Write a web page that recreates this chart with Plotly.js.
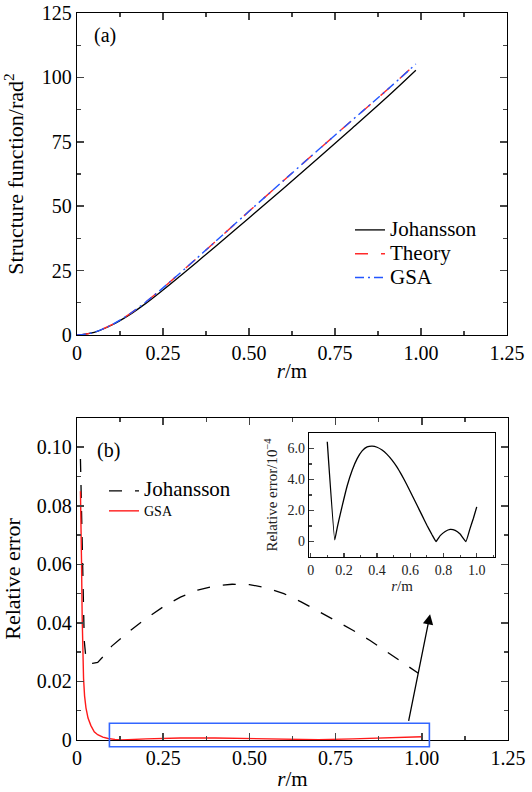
<!DOCTYPE html>
<html><head><meta charset="utf-8">
<script src="https://cdn.plot.ly/plotly-3.0.1.min.js"></script>
<style>html,body{margin:0;padding:0;background:#fff}#chart{width:532px;height:792px}</style>
</head><body><div id="chart"></div>
<script>
// ---------- Panel (a): structure function ----------
const rA         = [0, 0.025, 0.05, 0.1, 0.15, 0.2, 0.25, 0.3, 0.35, 0.4, 0.5, 0.6, 0.7, 0.8, 0.9, 0.985];
const johanssonA = [0, 0.34, 1.02, 3.78, 7.61, 12.27, 17.47, 22.92, 28.46, 34.11, 45.45, 56.9, 68.5, 80.3, 92.2, 102.8];
const theoryA    = [0, 0.35, 1.05, 3.9, 7.9, 12.8, 18.3, 24.1, 30.0, 36.0, 48.0, 59.9, 71.7, 83.4, 95.0, 105.3];
const gsaA       = [0, 0.35, 1.05, 3.9, 7.9, 12.8, 18.3, 24.1, 30.0, 36.0, 48.0, 59.9, 71.7, 83.4, 95.0, 105.2];

// ---------- Panel (b): relative error ----------
const rJohB   = [0.010,0.012,0.014,0.016,0.018,0.021,0.025,0.03,0.045,0.06,0.08,0.1,0.15,0.2,0.25,0.3,0.35,0.4,0.45,0.5,0.55,0.6,0.65,0.7,0.75,0.8,0.85,0.9,0.95,0.99];
const errJohB = [0.096,0.082,0.068,0.055,0.044,0.034,0.029,0.0268,0.0262,0.0265,0.029,0.032,0.037,0.0415,0.0455,0.0488,0.0512,0.0526,0.0532,0.0531,0.052,0.050,0.0472,0.044,0.0408,0.0375,0.034,0.030,0.026,0.0228];
const rGsaB   = [0.010,0.012,0.013,0.015,0.017,0.019,0.022,0.026,0.032,0.04,0.05,0.06,0.075,0.09,0.11,0.13,0.2,0.3,0.4,0.5,0.6,0.65,0.7,0.8,0.9,1.0];
const errGsaB = [0.085,0.075,0.062,0.042,0.028,0.021,0.015,0.011,0.0075,0.005,0.0028,0.0018,0.001,0.0005,0.0002,0.0,0.0004,0.0007,0.0007,0.0005,0.0002,0.0,0.0001,0.0004,0.0008,0.0011];

// ---------- Inset: GSA relative error (x 1e-4) ----------
const rInset   = [0.1,0.145,0.16,0.178,0.19,0.22,0.25,0.28,0.31,0.34,0.37,0.40,0.43,0.46,0.49,0.52,0.55,0.58,0.61,0.64,0.67,0.70,0.73,0.755,0.78,0.81,0.84,0.87,0.90,0.935,0.96,0.98,1.0];
const errInset = [6.44,0.1,0.9,1.75,2.3,3.6,4.6,5.35,5.85,6.1,6.15,6.08,5.9,5.62,5.25,4.8,4.25,3.65,3.0,2.35,1.7,1.05,0.45,0.0,0.38,0.65,0.78,0.72,0.48,0.0,0.85,1.5,2.23];

// ---------- Ticks ----------
const xTickVals  = [0,0.25,0.5,0.75,1.0,1.25];
const xTickText  = ['0','0.25','0.50','0.75','1.00','1.25'];
const yTickValsA = [0,25,50,75,100,125];
const yTickTextA = ['0','25','50','75','100','125'];
const yTickValsB = [0,0.02,0.04,0.06,0.08,0.10];
const yTickTextB = ['0','0.02','0.04','0.06','0.08','0.10'];
const xTickValsI = [0,0.2,0.4,0.6,0.8,1.0];
const xTickTextI = ['0','0.2','0.4','0.6','0.8','1.0'];
const yTickValsI = [0,2,4,6];
const yTickTextI = ['0','2.0','4.0','6.0'];

// zoom box and arrow (data units of panel b)
const zoomBox = {r0:0.094, r1:1.022, e0:-0.0023, e1:0.0057};
const arrowTail = {r:0.961, e:0.006};
const arrowHead = {r:1.024, e:0.043};

const FONT = 'Liberation Serif, DejaVu Serif, serif';
const TICKC = '#444';
const xRangeMain = [0,1.25], yRangeA = [0,125], yRangeB = [0,0.11];
const xRangeI = [-0.01,1.11], yRangeI = [-1,7];

function mainAxis(extra){
  return Object.assign({
    showline:true, linecolor:'#000', linewidth:1.3, mirror:'ticks',
    ticks:'inside', ticklen:7, tickwidth:1.6, tickcolor:TICKC,
    showgrid:false, zeroline:false,
    tickfont:{family:FONT, size:20, color:'#000'}
  }, extra);
}
function insetAxis(extra){
  return Object.assign({
    showline:true, linecolor:'#000', linewidth:1.2, mirror:true,
    ticks:'inside', ticklen:4.5, tickwidth:1.3, tickcolor:TICKC,
    showgrid:false, zeroline:false,
    tickfont:{family:FONT, size:14, color:'#222'}
  }, extra);
}
const minorOpt = (d, len)=>({tickmode:'linear', tick0:0, dtick:d, ticks:'inside', ticklen:len, tickwidth:1.4, tickcolor:TICKC, showgrid:false});

const span = (t,s)=>'<span style="font-size:'+s+'px">'+t+'</span>';

const traces = [
  {x:rA, y:johanssonA, xaxis:'x', yaxis:'y', type:'scatter', mode:'lines', name:span('Johansson',21), legend:'legend',
   line:{color:'#000', width:1.3, shape:'spline', smoothing:1}},
  {x:rA, y:theoryA, xaxis:'x', yaxis:'y', type:'scatter', mode:'lines', name:span('Theory',21), legend:'legend',
   line:{color:'#ff2a2a', width:1.4, dash:'13px,13px', shape:'spline', smoothing:1}},
  {x:rA, y:gsaA, xaxis:'x', yaxis:'y', type:'scatter', mode:'lines', name:span('GSA',21), legend:'legend',
   line:{color:'#2255ff', width:1.4, dash:'9px,4px,2px,4px', shape:'spline', smoothing:1}},
  {x:rJohB, y:errJohB, xaxis:'x2', yaxis:'y2', type:'scatter', mode:'lines', name:span('Johansson',21), legend:'legend2',
   line:{color:'#000', width:1.3, dash:'13px,13px'}},
  {x:rGsaB, y:errGsaB, xaxis:'x2', yaxis:'y2', type:'scatter', mode:'lines', name:span('GSA',14), legend:'legend2',
   line:{color:'#ff1a1a', width:1.4}},
  {x:rInset, y:errInset, xaxis:'x3', yaxis:'y3', type:'scatter', mode:'lines', showlegend:false,
   line:{color:'#000', width:1.3, shape:'spline', smoothing:0.3}}
];

const layout = {
  width:532, height:792, margin:{l:0,r:0,t:0,b:0},
  paper_bgcolor:'#fff', plot_bgcolor:'rgba(0,0,0,0)',
  font:{family:FONT, color:'#000'},
  xaxis: mainAxis({domain:[77/532,507/532], anchor:'y', range:xRangeMain, tickmode:'array', tickvals:xTickVals, ticktext:xTickText,
    minor:minorOpt(0.125, 4), title:{text:'<i>r</i>/m', font:{family:FONT,size:21}, standoff:0}}),
  yaxis: mainAxis({domain:[1-335/792,1-13/792], anchor:'x', range:yRangeA, tickmode:'array', tickvals:yTickValsA, ticktext:yTickTextA,
    minor:minorOpt(12.5, 4), title:{text:'Structure function/rad<sup>2</sup>', font:{family:FONT,size:22}, standoff:12}}),
  xaxis2: mainAxis({domain:[77/532,508/532], anchor:'y2', range:xRangeMain, tickmode:'array', tickvals:xTickVals, ticktext:xTickText,
    minor:minorOpt(0.125, 4), title:{text:'<i>r</i>/m', font:{family:FONT,size:21}, standoff:3}}),
  yaxis2: mainAxis({domain:[1-740/792,1-418/792], anchor:'x2', range:yRangeB, tickmode:'array', tickvals:yTickValsB, ticktext:yTickTextB,
    minor:minorOpt(0.01, 4), title:{text:'Relative error', font:{family:FONT,size:22}, standoff:12}}),
  xaxis3: insetAxis({domain:[309/532,495/532], anchor:'y3', range:xRangeI, tickmode:'array', tickvals:xTickValsI, ticktext:xTickTextI,
    minor:{tickmode:'linear', tick0:0, dtick:0.1, ticks:'inside', ticklen:2.5, tickwidth:1.1, tickcolor:TICKC},
    title:{text:'<i>r</i>/m', font:{family:FONT,size:15,color:'#222'}, standoff:0}}),
  yaxis3: insetAxis({domain:[1-557/792,1-433/792], anchor:'x3', range:yRangeI, tickmode:'array', tickvals:yTickValsI, ticktext:yTickTextI,
    minor:{tickmode:'linear', tick0:0, dtick:1, ticks:'inside', ticklen:2.5, tickwidth:1.1, tickcolor:TICKC},
    title:{text:'Relative error/10<sup>−4</sup>', font:{family:FONT,size:15,color:'#222'}, standoff:6}}),
  legend:{x:350/532, xanchor:'left', y:1-213/792, yanchor:'top', bgcolor:'rgba(0,0,0,0)', borderwidth:0,
    font:{family:FONT, size:16, color:'#000'}, tracegroupgap:0},
  legend2:{x:104/532, xanchor:'left', y:1-476/792, yanchor:'top', bgcolor:'rgba(0,0,0,0)', borderwidth:0,
    font:{family:FONT, size:13, color:'#000'}, tracegroupgap:0},
  shapes:[
    {type:'rect', xref:'x2 domain', yref:'y2 domain',
     x0:(zoomBox.r0-xRangeMain[0])/(xRangeMain[1]-xRangeMain[0]), x1:(zoomBox.r1-xRangeMain[0])/(xRangeMain[1]-xRangeMain[0]),
     y0:(zoomBox.e0-yRangeB[0])/(yRangeB[1]-yRangeB[0]), y1:(zoomBox.e1-yRangeB[0])/(yRangeB[1]-yRangeB[0]),
     line:{color:'#3366ff', width:1.6}, fillcolor:'rgba(0,0,0,0)'}
  ],
  annotations:[
    {text:'(a)', xref:'x domain', yref:'y domain', x:0.035, y:0.93, xanchor:'left', yanchor:'middle', showarrow:false,
     font:{family:FONT, size:20, color:'#000'}},
    {text:'(b)', xref:'x2 domain', yref:'y2 domain', x:0.042, y:0.90, xanchor:'left', yanchor:'middle', showarrow:false,
     font:{family:FONT, size:20, color:'#000'}},
    {text:'', xref:'x2', yref:'y2', axref:'x2', ayref:'y2', x:arrowHead.r, y:arrowHead.e, ax:arrowTail.r, ay:arrowTail.e,
     showarrow:true, arrowhead:2, arrowsize:1.6, arrowwidth:1.3, arrowcolor:'#000', standoff:0}
  ]
};

Plotly.newPlot('chart', traces, layout, {displayModeBar:false, staticPlot:true});
</script>
</body></html>
